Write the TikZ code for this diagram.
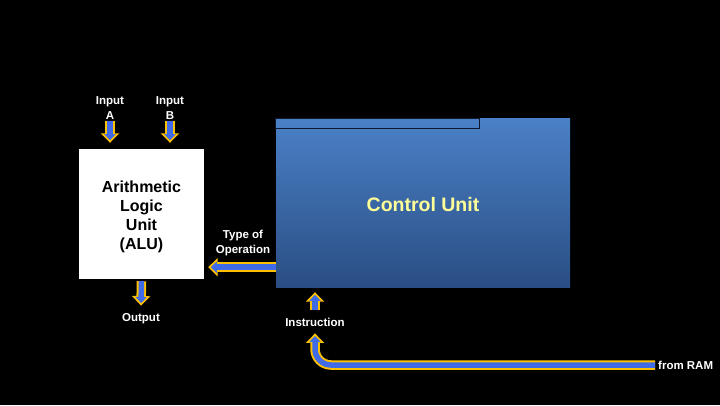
\documentclass[tikz,border=0pt]{standalone}
\usepackage{fontspec}
\setmainfont{Liberation Sans}
\usetikzlibrary{positioning,arrows.meta,calc}
\definecolor{cuTop}{HTML}{4A80C6}
\definecolor{cuBot}{HTML}{2A4E84}
\definecolor{cuEdge}{HTML}{101830}
\definecolor{cuText}{HTML}{FFFF99}
\definecolor{arrGold}{HTML}{FFC000}
\definecolor{arrBlue}{HTML}{3F6AE8}

\begin{document}
\begin{tikzpicture}[x=1pt,y=1pt,
  lbl/.style={text=white, align=center, inner sep=2pt,
              font=\fontsize{11.5}{14.2}\selectfont\bfseries},
  unit/.style={inner sep=0pt},
  flow/.style={line width=9.5pt, arrGold, -{Triangle[width=18pt,length=9.5pt]},
               postaction={draw=arrBlue, line width=5.5pt,
                           -{Triangle[width=11pt,length=6pt]}, shorten >=2.6pt}}
]
  \fill[black] (0,0) rectangle (720,405);
  \useasboundingbox (0,0) rectangle (720,405);

  % the two units
  \node[unit, fill=white, minimum width=125pt, minimum height=130pt] (alu) at (141.5,191) {};
  \node[align=center, font=\fontsize{16}{19}\selectfont\bfseries] (aluname)
        at ([yshift=-3pt]alu.center) {Arithmetic\\Logic\\Unit\\(ALU)};
  \node[unit, top color=cuTop, bottom color=cuBot, minimum width=294pt, minimum height=168pt]
        (cu) at (423,202) {};
  \node[text=cuText, font=\fontsize{19.5}{23}\selectfont\bfseries] (cuname)
        at ([yshift=-2pt]cu.center) {Control Unit};
  \draw[cuEdge, line width=1pt] (cu.north west) rectangle ++(204,-10);

  % labels
  \node[lbl] (inA) at (110,297) {Input\\A};
  \node[lbl] (inB) at (170,297) {Input\\B};
  \node[lbl] (outp) at (141,86) {Output};
  \node[lbl] (optype) at (243,162) {Type of\\Operation};
  \node[lbl] (instr) at (315,83) {Instruction};
  \node[lbl, anchor=west] (ram) at (656,40) {from RAM};

  % data flow
  \draw[flow] (inA.south) -- ([yshift=6pt]inA.south |- alu.north);
  \draw[flow] (inB.south) -- ([yshift=6pt]inB.south |- alu.north);
  \draw[flow] ([yshift=-2pt]alu.south) -- ([yshift=6pt]outp.north);
  \coordinate (op) at ($(cu.south west)+(0,20)$);
  \draw[flow] (op) -- ([xshift=4pt]alu.east |- op);
  \draw[flow] ([yshift=6pt]instr.north) -- ([yshift=-5pt]instr.north |- cu.south);
  \draw[flow, rounded corners=16pt] ([xshift=-1pt]ram.west) -| ([yshift=-5pt]instr.south);
\end{tikzpicture}
\end{document}
